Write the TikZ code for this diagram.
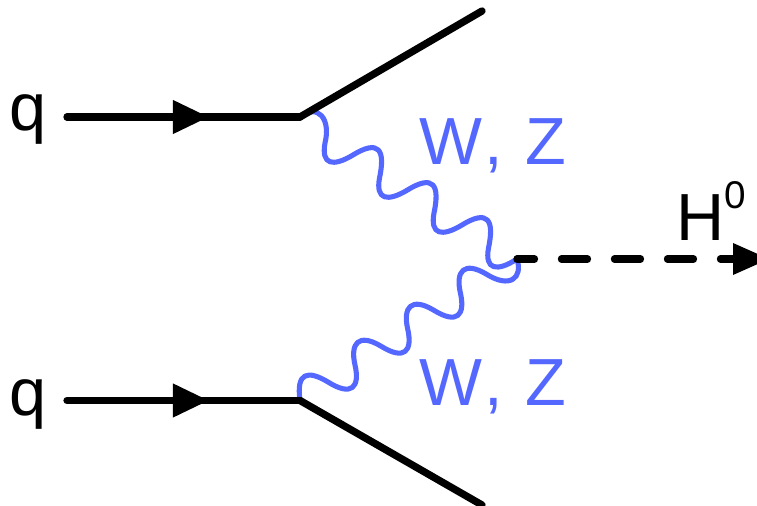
\documentclass[tikz,border=0pt]{standalone}
\usepackage{fontspec}
\setmainfont{Liberation Sans}
\usetikzlibrary{arrows.meta,decorations.markings}

\begin{document}
\begin{tikzpicture}[x=0.75pt,y=-0.75pt,line cap=round]
\tikzstyle{every node}=[inner sep=0pt,anchor=base west,font=\fontsize{50pt}{50pt}\selectfont]
\tikzstyle{quark}=[draw=black,line width=5.5pt]
\tikzstyle{boson}=[draw=wzblue,line width=3.8pt,line join=round]
\tikzstyle{higgs}=[draw=black,line width=5.5pt,dash pattern=on 19.5pt off 20.25pt,dash phase=6.4pt]
\tikzstyle{midarrow}=[postaction={decorate},decoration={markings,mark=at position 0.609 with {\arrow{Triangle[length=27pt,width=24pt]}}}]
\definecolor{wzblue}{HTML}{5468FF}
\useasboundingbox (0,0) rectangle (757,506);
\coordinate (Vup) at (300,117);
\coordinate (Vdown) at (300,400.5);
\coordinate (Vh) at (517,259);
\coordinate (Oup) at (482,11);
\coordinate (Odown) at (482,505);
\coordinate (Qup) at (67,117);
\coordinate (Qdown) at (67,400.5);
\coordinate (Hend) at (733,259);
\coordinate (Htip) at (769,259);
\node (q1) at (9,131) {q};
\node (q2) at (9,415) {q};
\node[text=wzblue] (wz1) at (419,165) {W\kern2pt, \kern3pt Z};
\node[text=wzblue] (wz2) at (419,405) {W\kern2pt, \kern3pt Z};
\node (h) at (676,240) {H\raisebox{24pt}{\fontsize{29pt}{29pt}\selectfont 0}};
% the two wavy lines
\draw[boson] (Vup) .. controls (318,103) and (331,119) .. (325,143)
  \foreach \k in {0,1,2} {
    .. controls ({321+54.5*\k},{165+35*\k}) and ({333+54.5*\k},{167+35*\k}) .. ({353+54.5*\k},{155+35*\k})
    .. controls ({379+54.5*\k},{139+35*\k}) and ({385.5+54.5*\k},{150+35*\k}) .. ({379.5+54.5*\k},{178+35*\k})
  }
  .. controls (484.5,270) and (497,272) .. (Vh);
\draw[boson] (Vdown) .. controls (296,372) and (308,370) .. (328,382)
  \foreach \k in {0,1,2} {
    .. controls ({352+52.7*\k},{397-36*\k}) and ({360+52.7*\k},{387-36*\k}) .. ({355+52.7*\k},{365-36*\k})
    .. controls ({350+52.7*\k},{343-36*\k}) and ({358.7+52.7*\k},{333-36*\k}) .. ({380.7+52.7*\k},{346-36*\k})
  }
  .. controls (510,289) and (523,278) .. (Vh);
% quark lines
\draw[quark,midarrow] (Qup) -- (Vup);
\draw[quark,midarrow] (Qdown) -- (Vdown);
\draw[quark] (Vup) -- (Oup);
\draw[quark] (Vdown) -- (Odown);
\draw[higgs] (Vh) -- (Hend);
\fill (Hend)+(0,-16) -- (Htip) -- ([yshift=-12pt]Hend) -- cycle;
\end{tikzpicture}
\end{document}
